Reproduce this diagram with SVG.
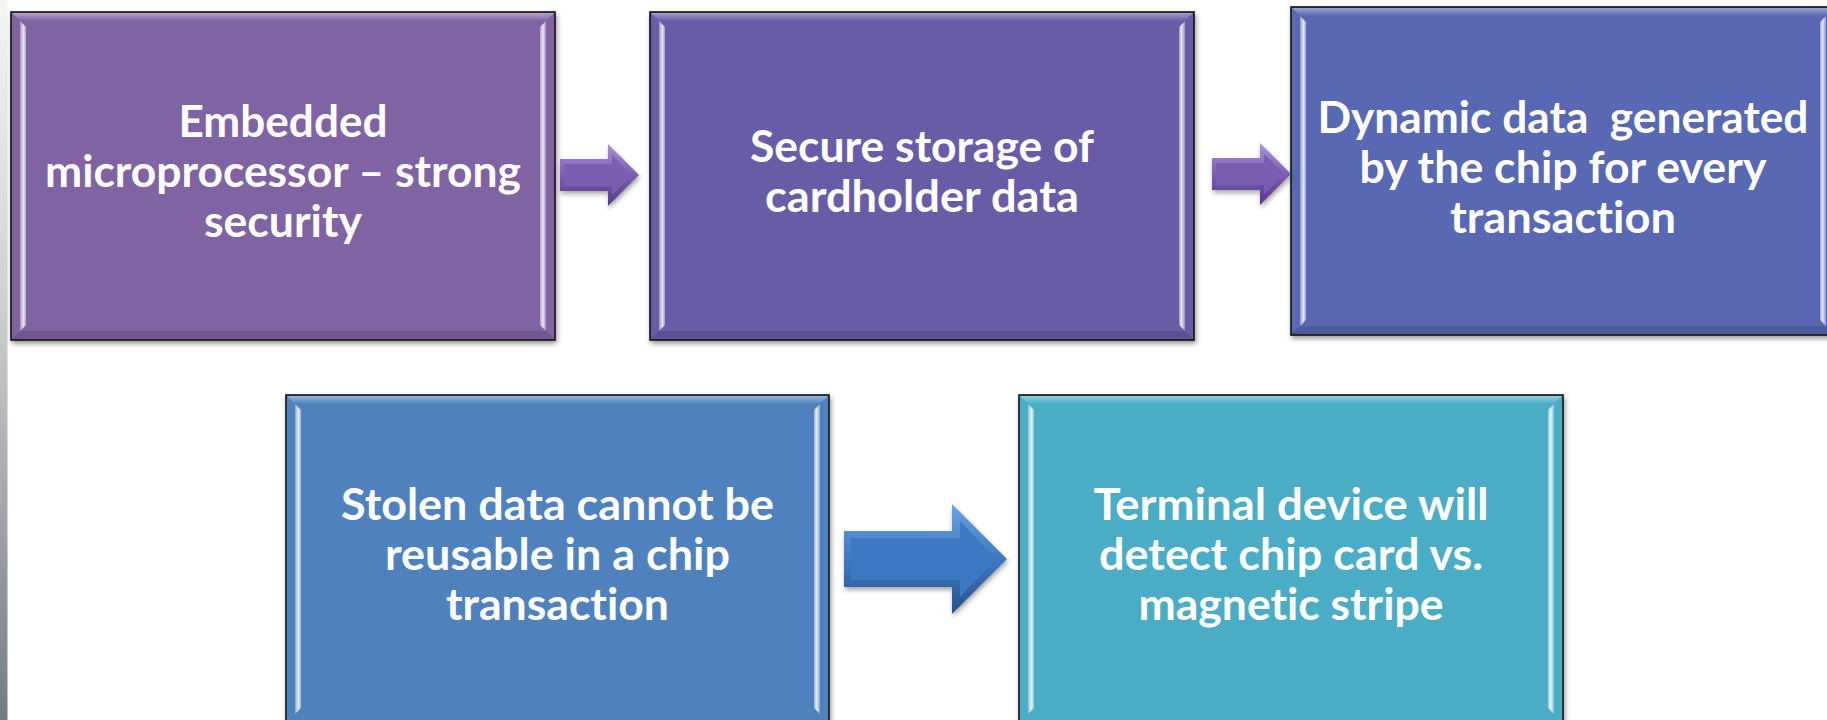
<svg xmlns="http://www.w3.org/2000/svg" width="1827" height="720" viewBox="0 0 1827 720">
  <defs>
    <style>
      .box { stroke: #151515; stroke-width: 1.6; filter: url(#shadow); }
      .label { font-family: Lato, "Open Sans", "Liberation Sans", sans-serif; font-weight: 700; font-size: 44px; fill: #ffffff; text-anchor: middle; font-variant-ligatures: none; font-feature-settings: "liga" 0, "clig" 0, "dlig" 0; }
      .bevel-l { fill: url(#bevelLeft); }
      .bevel-r { fill: url(#bevelRight); }
      .bevel-t { fill: url(#bevelTop); }
      .bevel-b { fill: #000000; fill-opacity: 0.12; }
      .arrow-purple-edge { fill: url(#purpleEdge); filter: url(#arrowShadow); }
      .arrow-purple-face { fill: #7B5EB2; }
      .arrow-blue-edge { fill: url(#blueEdge); filter: url(#arrowShadow); }
      .arrow-blue-face { fill: #3D79C2; }
    </style>
    <filter id="shadow" x="-5%" y="-5%" width="112%" height="115%">
      <feDropShadow dx="1.5" dy="3" stdDeviation="2.5" flood-color="#000000" flood-opacity="0.4"/>
    </filter>
    <filter id="arrowShadow" x="-10%" y="-20%" width="125%" height="150%">
      <feDropShadow dx="1" dy="3" stdDeviation="2.5" flood-color="#000000" flood-opacity="0.35"/>
    </filter>
    <linearGradient id="edgeStrip" x1="0" y1="0" x2="0" y2="1">
      <stop offset="0" stop-color="#f4f4f4"/>
      <stop offset="0.4" stop-color="#d2d2d2"/>
      <stop offset="1" stop-color="#767a82"/>
    </linearGradient>
    <linearGradient id="bevelLeft" x1="0" y1="0" x2="1" y2="0">
      <stop offset="0" stop-color="#ffffff" stop-opacity="0.3"/>
      <stop offset="0.55" stop-color="#ffffff" stop-opacity="0.85"/>
      <stop offset="1" stop-color="#ffffff" stop-opacity="0.4"/>
    </linearGradient>
    <linearGradient id="bevelRight" x1="0" y1="0" x2="1" y2="0">
      <stop offset="0" stop-color="#ffffff" stop-opacity="0.4"/>
      <stop offset="0.45" stop-color="#ffffff" stop-opacity="0.85"/>
      <stop offset="1" stop-color="#ffffff" stop-opacity="0.3"/>
    </linearGradient>
    <linearGradient id="bevelTop" x1="0" y1="0" x2="0" y2="1">
      <stop offset="0" stop-color="#ffffff" stop-opacity="0.4"/>
      <stop offset="1" stop-color="#ffffff" stop-opacity="0"/>
    </linearGradient>
    <linearGradient id="purpleEdge" x1="0" y1="0" x2="0" y2="1">
      <stop offset="0" stop-color="#A993D8"/>
      <stop offset="0.5" stop-color="#7B5EB2"/>
      <stop offset="1" stop-color="#523B85"/>
    </linearGradient>
    <linearGradient id="blueEdge" x1="0" y1="0" x2="0" y2="1">
      <stop offset="0" stop-color="#6FA3E2"/>
      <stop offset="0.5" stop-color="#3D79C2"/>
      <stop offset="1" stop-color="#24528E"/>
    </linearGradient>
  </defs>

  <rect width="1827" height="720" fill="#ffffff"/>
  <!-- slide edge strip on the left -->
  <rect x="0" y="0" width="7.5" height="720" fill="url(#edgeStrip)"/>

  <!-- Box 1 -->
  <g id="node-1">
    <rect class="box" x="11" y="12" width="544" height="328" fill="#8064A2"/>
    <polygon class="bevel-t" points="12,13 554,13 546,21 20,21"/>
    <polygon class="bevel-b" points="12,339 554,339 546,331 20,331"/>
    <polygon class="bevel-l" points="20,21 26,27 26,325 20,331"/>
    <polygon class="bevel-r" points="540,27 546,21 546,331 540,325"/>
    <text class="label" x="283" y="136.7" textLength="209" lengthAdjust="spacingAndGlyphs">Embedded</text>
    <text class="label" x="283" y="186.7" textLength="476" lengthAdjust="spacingAndGlyphs">microprocessor – strong</text>
    <text class="label" x="283" y="236.7" textLength="158" lengthAdjust="spacingAndGlyphs">security</text>
  </g>

  <!-- Box 2 -->
  <g id="node-2">
    <rect class="box" x="650" y="12" width="544" height="328" fill="#675BA7"/>
    <polygon class="bevel-t" points="651,13 1193,13 1185,21 659,21"/>
    <polygon class="bevel-b" points="651,339 1193,339 1185,331 659,331"/>
    <polygon class="bevel-l" points="659,21 665,27 665,325 659,331"/>
    <polygon class="bevel-r" points="1179,27 1185,21 1185,331 1179,325"/>
    <text class="label" x="922" y="161.7" textLength="344" lengthAdjust="spacingAndGlyphs">Secure storage of</text>
    <text class="label" x="922" y="211.7" textLength="314" lengthAdjust="spacingAndGlyphs">cardholder data</text>
  </g>

  <!-- Box 3 -->
  <g id="node-3">
    <rect class="box" x="1291" y="7" width="544" height="328" fill="#5867B2"/>
    <polygon class="bevel-t" points="1292,8 1834,8 1826,16 1300,16"/>
    <polygon class="bevel-b" points="1292,334 1834,334 1826,326 1300,326"/>
    <polygon class="bevel-l" points="1300,16 1306,22 1306,320 1300,326"/>
    <polygon class="bevel-r" points="1820,22 1826,16 1826,326 1820,320"/>
    <text class="label" x="1563" y="132.5" textLength="491" lengthAdjust="spacingAndGlyphs" xml:space="preserve">Dynamic data  generated</text>
    <text class="label" x="1563" y="182.5" textLength="407" lengthAdjust="spacingAndGlyphs">by the chip for every</text>
    <text class="label" x="1563" y="232.5" textLength="226" lengthAdjust="spacingAndGlyphs">transaction</text>
  </g>

  <!-- Box 4 -->
  <g id="node-4">
    <rect class="box" x="286" y="395" width="543" height="328" fill="#4F82BC"/>
    <polygon class="bevel-t" points="287,396 828,396 820,404 295,404"/>
    <polygon class="bevel-l" points="295,404 301,410 301,708 295,714"/>
    <polygon class="bevel-r" points="814,410 820,404 820,714 814,708"/>
    <text class="label" x="557.5" y="520" textLength="433" lengthAdjust="spacingAndGlyphs">Stolen data cannot be</text>
    <text class="label" x="557.5" y="570" textLength="345" lengthAdjust="spacingAndGlyphs">reusable in a chip</text>
    <text class="label" x="557.5" y="620" textLength="223" lengthAdjust="spacingAndGlyphs">transaction</text>
  </g>

  <!-- Box 5 -->
  <g id="node-5">
    <rect class="box" x="1019" y="395" width="544" height="328" fill="#4BACC6"/>
    <polygon class="bevel-t" points="1020,396 1562,396 1554,404 1028,404"/>
    <polygon class="bevel-l" points="1028,404 1034,410 1034,708 1028,714"/>
    <polygon class="bevel-r" points="1548,410 1554,404 1554,714 1548,708"/>
    <text class="label" x="1291" y="520" textLength="395" lengthAdjust="spacingAndGlyphs">Terminal device will</text>
    <text class="label" x="1291" y="570" textLength="384" lengthAdjust="spacingAndGlyphs">detect chip card vs.</text>
    <text class="label" x="1291" y="620" textLength="305" lengthAdjust="spacingAndGlyphs">magnetic stripe</text>
  </g>

  <!-- Block arrows between the steps -->
  <g id="connectors">
    <g id="arrow-1-2" transform="translate(560,175)">
      <polygon class="arrow-purple-edge" points="0,-16 48,-16 48,-31 79,0 48,31 48,16 0,16"/>
      <polygon class="arrow-purple-face" points="4,-11 52,-11 52,-20 72,0 52,20 52,11 4,11"/>
    </g>
    <g id="arrow-2-3" transform="translate(1212,174)">
      <polygon class="arrow-purple-edge" points="0,-16 48,-16 48,-31 79,0 48,31 48,16 0,16"/>
      <polygon class="arrow-purple-face" points="4,-11 52,-11 52,-20 72,0 52,20 52,11 4,11"/>
    </g>
    <g id="arrow-4-5" transform="translate(844,559)">
      <polygon class="arrow-blue-edge" points="0,-28 108,-28 108,-55 163,0 108,55 108,28 0,28"/>
      <polygon class="arrow-blue-face" points="7,-21 116,-21 116,-38 152,0 116,38 116,21 7,21"/>
    </g>
  </g>
</svg>
